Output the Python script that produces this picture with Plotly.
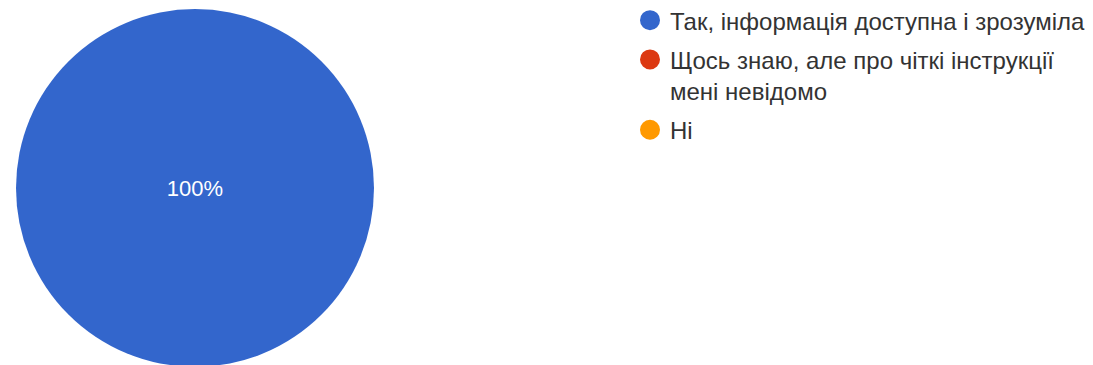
import plotly.graph_objects as go

# survey answers (Ukrainian), share of responses
labels = [
    "Так, інформація доступна і зрозуміла",
    "Щось знаю, але про чіткі інструкції<br>мені невідомо",
    "Ні",
]
values = [100, 0, 0]
colors = ["#3366cc", "#dc3912", "#ff9900"]

total = sum(values)
pie_text = [f"{round(v / total * 100)}%" if v else "" for v in values]

fig = go.Figure()
fig.add_trace(go.Pie(
    labels=labels,
    values=values,
    text=pie_text,
    textinfo="text",
    textposition="inside",
    insidetextfont=dict(color="white", size=22, family="Liberation Sans, Arial"),
    marker=dict(colors=colors, line=dict(width=0)),
    sort=False,
    direction="clockwise",
    showlegend=False,
    domain=dict(x=[8 / 1093, 366 / 1093], y=[6 / 364, 1]),
    hoverinfo="label+percent",
))

# legend with round markers, one entry per answer
for i, (lab, col) in enumerate(zip(labels, colors)):
    fig.add_trace(go.Scatter(
        x=[None], y=[None], mode="markers", name=lab,
        legendgroup=str(i),
        marker=dict(symbol="circle", size=16, color=col, line=dict(color=col, width=4)),
    ))

fig.update_layout(
    width=1093, height=365,
    margin=dict(l=0, r=0, t=1, b=0, autoexpand=False),
    paper_bgcolor="white", plot_bgcolor="white",
    xaxis=dict(visible=False), yaxis=dict(visible=False),
    font=dict(family="Liberation Sans, Arial", color="#333333"),
    legend=dict(
        x=622 / 1093, y=1.03, xanchor="left", yanchor="top",
        font=dict(size=24, color="#333333"),
        valign="top",
        tracegroupgap=5,
        bgcolor="rgba(0,0,0,0)",
    ),
)

fig.write_html("out.html")
